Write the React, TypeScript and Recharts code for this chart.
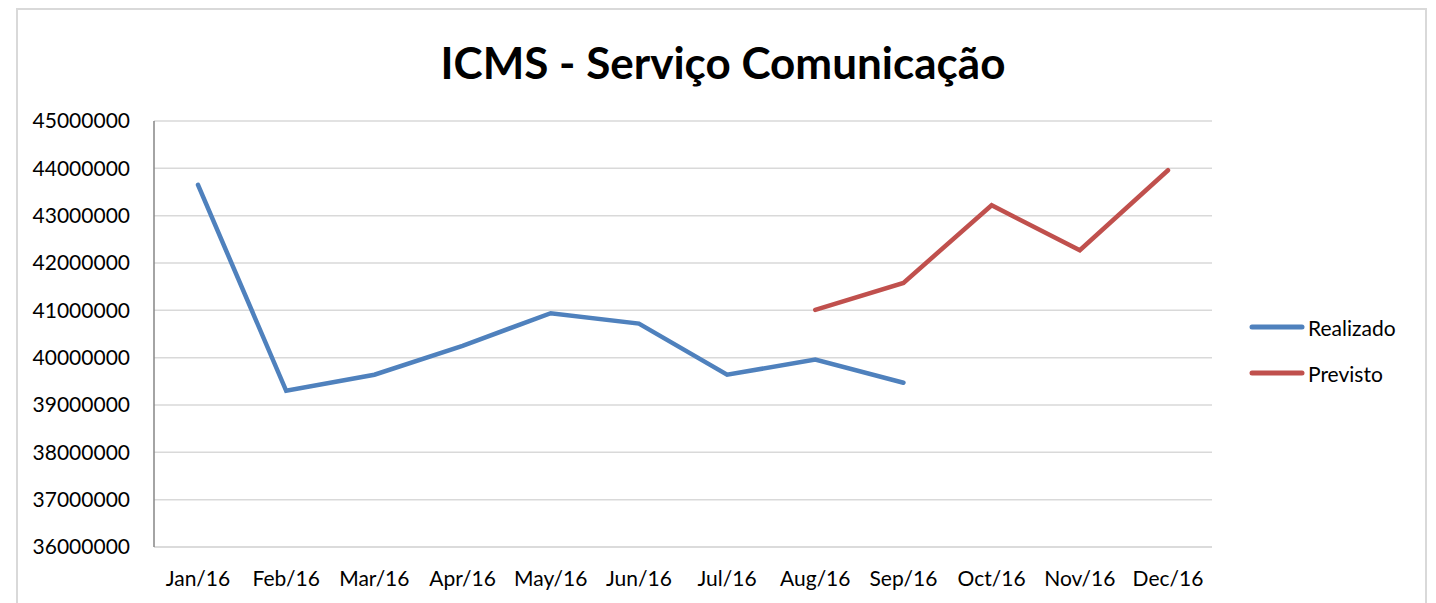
import React from "react";
import { LineChart, Line, XAxis, YAxis, CartesianGrid } from "recharts";

const months = ["Jan/16", "Feb/16", "Mar/16", "Apr/16", "May/16", "Jun/16", "Jul/16", "Aug/16", "Sep/16", "Oct/16", "Nov/16", "Dec/16"];
const realizado = [43650000, 39300000, 39640000, 40250000, 40940000, 40720000, 39640000, 39960000, 39470000, null, null, null];
const previsto = [null, null, null, null, null, null, null, 41010000, 41580000, 43220000, 42270000, 43960000];
const yTicks = [36000000, 37000000, 38000000, 39000000, 40000000, 41000000, 42000000, 43000000, 44000000, 45000000];

const series = [
  { key: "Realizado", color: "#4f81bd" },
  { key: "Previsto", color: "#c0504d" },
];

const data = months.map((m, i) => ({ month: m, Realizado: realizado[i], Previsto: previsto[i] }));

const font = "Lato, 'Open Sans', sans-serif";

export default function App() {
  return (
    <div style={{ position: "relative", width: 1420, height: 595, fontFamily: font }}>
      <div style={{ position: "absolute", left: 8, top: 0, width: 1411, height: 640, border: "2px solid #d9d9d9", boxSizing: "border-box" }} />
      <div style={{ position: "absolute", left: 0, top: 28, width: 1430, textAlign: "center", fontSize: 44, fontWeight: 700, color: "#000" }}>
        ICMS - Serviço Comunicação
      </div>
      <div style={{ position: "absolute", left: 0, top: 0 }}>
        <LineChart width={1420} height={595} data={data} margin={{ top: 113, right: 216, bottom: 16, left: 0 }}>
          <CartesianGrid vertical={false} stroke="#d9d9d9" strokeWidth={1.5} />
          <XAxis
            dataKey="month"
            height={40}
            padding={{ left: 44, right: 44 }}
            tickLine={false}
            tickMargin={18}
            axisLine={{ stroke: "#d9d9d9", strokeWidth: 1.5 }}
            interval={0}
            tick={{ fill: "#000", fontSize: 21, fontFamily: font }}
          />
          <YAxis
            width={146}
            domain={[36000000, 45000000]}
            ticks={yTicks}
            interval={0}
            tickLine={false}
            tickMargin={18}
            axisLine={{ stroke: "#868686", strokeWidth: 1.5 }}
            tick={{ fill: "#000", fontSize: 21, fontFamily: font }}
          />
          {series.map((s) => (
            <Line key={s.key} dataKey={s.key} stroke={s.color} strokeWidth={4.5} dot={false} isAnimationActive={false} strokeLinecap="round" />
          ))}
        </LineChart>
      </div>
      <div style={{ position: "absolute", left: 1241, top: 296, fontSize: 21, color: "#000" }}>
        {series.map((s) => (
          <div key={s.key} style={{ display: "flex", alignItems: "center", height: 46 }}>
            <svg width={56} height={10}>
              <line x1={3} y1={5} x2={53} y2={5} stroke={s.color} strokeWidth={5} strokeLinecap="round" />
            </svg>
            <span style={{ marginLeft: 3 }}>{s.key}</span>
          </div>
        ))}
      </div>
    </div>
  );
}
